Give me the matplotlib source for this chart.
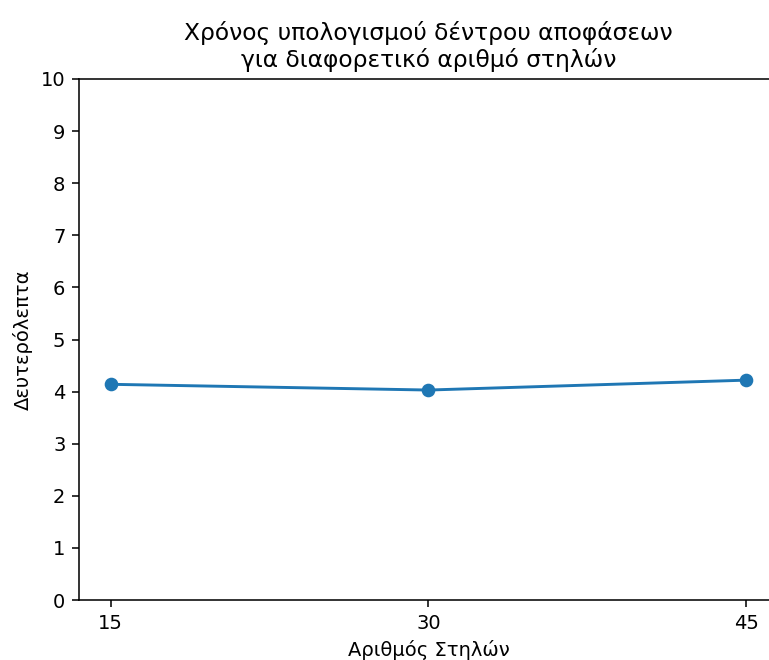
import matplotlib
matplotlib.use("Agg")
import matplotlib.pyplot as plt

columns = [15, 30, 45]
seconds = [4.14, 4.03, 4.22]

DPI = 140
fig = plt.figure(figsize=(769 / DPI, 660 / DPI), dpi=DPI)
# the reference is cropped on the right, so the axes run past the figure edge
ax = fig.add_axes([79 / 769, 60 / 660, 699 / 769, 521 / 660])

ax.plot(columns, seconds, marker='o')
ax.set_ylim(0, 10)
ax.set_yticks(range(0, 11))
ax.set_xticks(columns)
ax.spines['right'].set_visible(False)
ax.set_title('Χρόνος υπολογισμού δέντρου αποφάσεων\nγια διαφορετικό αριθμό στηλών')
ax.set_xlabel('Αριθμός Στηλών')
ax.set_ylabel('Δευτερόλεπτα')

fig.savefig('out.png', dpi=DPI)
